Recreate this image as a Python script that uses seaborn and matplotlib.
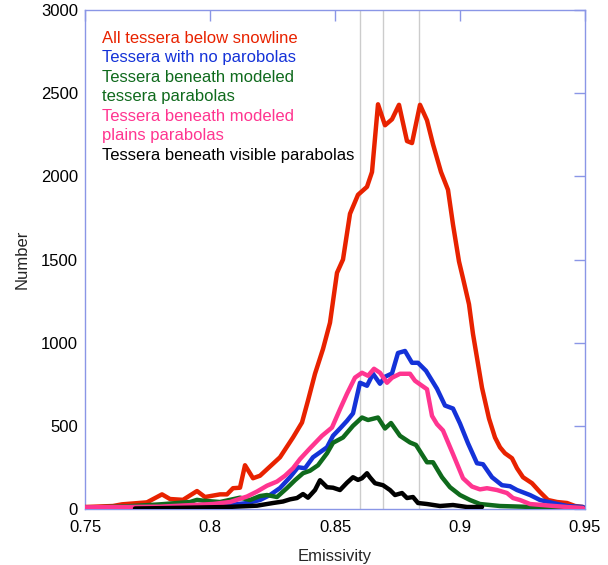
import matplotlib
matplotlib.use("Agg")
import matplotlib.pyplot as plt
import seaborn as sns
import pandas as pd

# ---- data ----
red_e = [0.7500, 0.7612, 0.7648, 0.7748, 0.7808, 0.7840, 0.7892, 0.7948, 0.7980, 0.8040,
         0.8068, 0.8092, 0.8120, 0.8140, 0.8172, 0.8200, 0.8280, 0.8332, 0.8368, 0.8392,
         0.8420, 0.8452, 0.8480, 0.8508, 0.8532, 0.8560, 0.8592, 0.8628, 0.8648, 0.8672,
         0.8700, 0.8728, 0.8756, 0.8788, 0.8808, 0.8840, 0.8868, 0.8892, 0.8924, 0.8952,
         0.8972, 0.8996, 0.9012, 0.9036, 0.9052, 0.9072, 0.9088, 0.9116, 0.9140, 0.9160,
         0.9180, 0.9208, 0.9228, 0.9252, 0.9288, 0.9320, 0.9352, 0.9388, 0.9428, 0.9460,
         0.9492]
red_n = [12, 18, 28, 40, 88, 60, 55, 108, 72, 88,
         88, 125, 128, 263, 185, 200, 311, 430, 520, 652,
         813, 962, 1120, 1420, 1500, 1775, 1889, 1937, 2026, 2433,
         2307, 2343, 2430, 2212, 2200, 2430, 2337, 2193, 2026, 1919,
         1710, 1488, 1387, 1231, 1052, 873, 729, 544, 430, 371,
         335, 305, 245, 191, 155, 102, 54, 42, 36, 18,
         12]

blue_e = [0.7500, 0.7668, 0.7932, 0.8012, 0.8080, 0.8148, 0.8200, 0.8240, 0.8280, 0.8320,
          0.8352, 0.8380, 0.8412, 0.8440, 0.8468, 0.8492, 0.8520, 0.8548, 0.8572, 0.8600,
          0.8628, 0.8652, 0.8680, 0.8700, 0.8728, 0.8752, 0.8780, 0.8808, 0.8832, 0.8864,
          0.8908, 0.8940, 0.8972, 0.9000, 0.9032, 0.9068, 0.9092, 0.9128, 0.9168, 0.9200,
          0.9228, 0.9280, 0.9320, 0.9372, 0.9428, 0.9492]
blue_n = [8, 10, 15, 18, 24, 36, 54, 84, 126, 191,
          251, 245, 311, 341, 371, 440, 484, 530, 575, 759,
          741, 813, 753, 795, 815, 938, 950, 879, 879, 831,
          723, 622, 604, 514, 395, 275, 269, 191, 143, 137,
          114, 84, 54, 36, 18, 12]

green_e = [0.7500, 0.7668, 0.7800, 0.7920, 0.7948, 0.7972, 0.8040, 0.8120, 0.8160, 0.8200,
           0.8228, 0.8268, 0.8308, 0.8340, 0.8372, 0.8400, 0.8432, 0.8468, 0.8492, 0.8532,
           0.8572, 0.8608, 0.8632, 0.8672, 0.8700, 0.8724, 0.8760, 0.8800, 0.8824, 0.8868,
           0.8892, 0.8928, 0.8960, 0.9000, 0.9040, 0.9080, 0.9160, 0.9292, 0.9492]
green_n = [8, 16, 28, 42, 55, 50, 42, 68, 54, 78,
           84, 72, 126, 173, 215, 230, 263, 335, 398, 430,
           500, 550, 535, 550, 484, 517, 440, 400, 385, 281,
           281, 191, 131, 84, 54, 30, 18, 12, 6]

pink_e = [0.7500, 0.7800, 0.7932, 0.8012, 0.8080, 0.8148, 0.8188, 0.8228, 0.8268, 0.8300,
          0.8332, 0.8360, 0.8400, 0.8448, 0.8488, 0.8520, 0.8548, 0.8580, 0.8608, 0.8632,
          0.8656, 0.8680, 0.8708, 0.8728, 0.8760, 0.8800, 0.8820, 0.8848, 0.8868, 0.8888,
          0.8908, 0.8932, 0.8972, 0.9012, 0.9048, 0.9080, 0.9108, 0.9148, 0.9188, 0.9212,
          0.9240, 0.9280, 0.9360, 0.9428, 0.9492]
pink_n = [10, 14, 24, 30, 42, 75, 105, 140, 165, 200,
          245, 300, 365, 440, 490, 600, 693, 790, 819, 801,
          843, 819, 759, 789, 813, 813, 771, 741, 720, 560,
          510, 472, 330, 185, 135, 118, 125, 114, 96, 66,
          54, 30, 20, 12, 6]

black_e = [0.7700, 0.7800, 0.7920, 0.8068, 0.8188, 0.8252, 0.8292, 0.8320, 0.8348, 0.8372,
           0.8392, 0.8420, 0.8440, 0.8468, 0.8492, 0.8520, 0.8548, 0.8572, 0.8592, 0.8608,
           0.8628, 0.8640, 0.8660, 0.8692, 0.8720, 0.8740, 0.8768, 0.8788, 0.8812, 0.8832,
           0.8868, 0.8920, 0.8972, 0.9028, 0.9088]
black_n = [3, 5, 8, 12, 20, 36, 45, 58, 66, 90,
           68, 114, 173, 131, 128, 114, 158, 191, 175, 185,
           215, 190, 155, 143, 114, 84, 96, 66, 72, 36,
           30, 18, 24, 12, 12]

series_names = ["All tessera below snowline",
                "Tessera with no parobolas",
                "Tessera beneath modeled\ntessera parabolas",
                "Tessera beneath modeled\nplains parabolas",
                "Tessera beneath visible parabolas"]
series_colors = ["#e82200", "#1432d8", "#0f6a1c", "#ff3590", "#000000"]
ref_lines = [0.860, 0.869, 0.8836]
x_ticks = [0.75, 0.80, 0.85, 0.90, 0.95]
x_tick_labels = ["0.75", "0.8", "0.85", "0.9", "0.95"]
y_ticks = [0, 500, 1000, 1500, 2000, 2500, 3000]

frames = []
for name, e, n in zip(series_names,
                      [red_e, blue_e, green_e, pink_e, black_e],
                      [red_n, blue_n, green_n, pink_n, black_n]):
    frames.append(pd.DataFrame({"Emissivity": e, "Number": n, "series": name}))
df = pd.concat(frames, ignore_index=True)

sns.set_theme(style="white")
plt.rcParams["font.family"] = ["Liberation Sans", "DejaVu Sans"]

fig = plt.figure(figsize=(6.08, 5.65), dpi=100)
ax = fig.add_axes([85 / 608, 1 - 509 / 565, 500 / 608, 499 / 565])

for xv in ref_lines:
    ax.axvline(xv, color="#cccccc", lw=1, zorder=1)

sns.lineplot(data=df, x="Emissivity", y="Number", hue="series",
             hue_order=series_names, palette=dict(zip(series_names, series_colors)),
             lw=3.2, sort=True, estimator=None, legend=False, ax=ax, zorder=3)

ax.set_xlim(0.75, 0.95)
ax.set_ylim(0, 3000)
ax.set_xticks(x_ticks)
ax.set_xticklabels(x_tick_labels)
ax.set_yticks(y_ticks)
spine_col = "#8a96e6"
for s in ax.spines.values():
    s.set_color(spine_col)
    s.set_linewidth(1.0)
ax.tick_params(direction="in", length=8, width=1, color=spine_col,
               top=True, right=True, labelsize=12, labelcolor="black")
ax.tick_params(axis="x", pad=8)
ax.tick_params(axis="y", pad=5)
ax.set_xlabel("Emissivity", fontsize=12, labelpad=10)
ax.set_ylabel("Number", fontsize=12, labelpad=8)

lines_text = []
for name, col in zip(series_names, series_colors):
    for part in name.split("\n"):
        lines_text.append((part, col))
for i, (t, col) in enumerate(lines_text):
    ax.text(0.034, 0.943 - i * 0.039, t, color=col, fontsize=12,
            transform=ax.transAxes, va="center", ha="left")

fig.savefig("out.png", dpi=100)
